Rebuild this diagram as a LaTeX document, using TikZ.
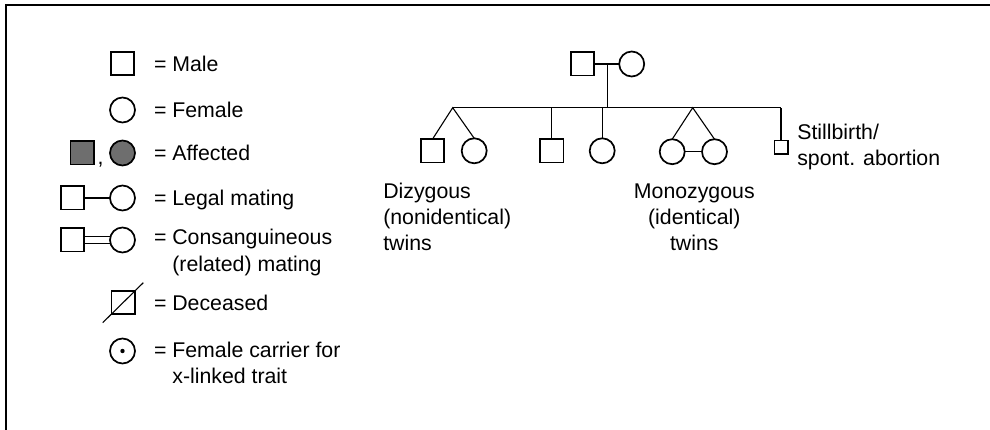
\documentclass[tikz,border=0pt]{standalone}
\usepackage{fontspec}
\setmainfont{Liberation Sans}
\definecolor{affgray}{RGB}{110,110,110}
\begin{document}
\begin{tikzpicture}[x=1pt,y=-1pt,
  every node/.style={inner sep=0pt,outer sep=0pt},
  line width=1.1pt,
  malebox/.style={draw,rectangle,minimum size=23.3pt,line width=1.7pt},
  femcirc/.style={draw,circle,minimum size=25pt,line width=1.7pt},
  smallbox/.style={draw,rectangle,minimum size=13.3pt,line width=1.7pt},
  affected/.style={fill=affgray},
  lbl/.style={anchor=base west,font=\fontsize{21.3}{26}\selectfont},
  clbl/.style={anchor=base,font=\fontsize{21.3}{26}\selectfont},
  frame/.style={line width=2.2pt,line join=miter}]
\useasboundingbox (0,0) rectangle (990,430);
% frame
\draw[frame] (990,5) -- (6.1,5) -- (6.1,430);
% ---------------- legend ----------------
\node[malebox] (lmale) at (122.5,63.5) {};
\node[lbl] (tmale) at (154,71.5) {= Male};
\node[femcirc] (lfem) at (122.5,110) {};
\node[lbl] (tfem) at (154,117.5) {= Female};
\node[malebox,affected] (laffm) at (82,153) {};
\node[lbl] (tcomma) at (97.5,164.5) {,};
\node[femcirc,affected] (lafff) at (122.5,153) {};
\node[lbl] (taff) at (154,160.5) {= Affected};
\node[malebox] (lmm) at (72.5,198) {};
\node[femcirc] (lmf) at (122.5,198) {};
\draw (lmm) -- (lmf);
\node[lbl] (tlegal) at (154,205.5) {= Legal mating};
\node[malebox] (lcm) at (72.5,240) {};
\node[femcirc] (lcf) at (122.5,240) {};
\draw ([yshift=3.3pt]lcm.east) -- ([yshift=3.3pt]lcf.west);
\draw ([yshift=-3.3pt]lcm.east) -- ([yshift=-3.3pt]lcf.west);
\node[lbl] (tcons1) at (154,245) {= Consanguineous};
\node[lbl] (tcons2) at (154,271.5) {\hphantom{= }(related) mating};
\node[malebox] (ldec) at (123,302.5) {};
\draw ([shift={(-20.3,20.2)}]ldec.center) -- ([shift={(20.3,-19.8)}]ldec.center);
\node[lbl] (tdec) at (154,310) {= Deceased};
\node[femcirc] (lcar) at (122.5,351) {};
\fill (lcar.center) circle (2.2);
\node[lbl] (tcar1) at (154,357.5) {= Female carrier for};
\node[lbl] (tcar2) at (154,383.5) {\hphantom{= }x-linked trait};
% ---------------- pedigree ----------------
\node[malebox] (pm) at (582.5,64) {};
\node[femcirc] (pf) at (631.7,64) {};
\draw (pm) -- (pf);
\coordinate (mid) at (607.3,64);
\coordinate (sibl) at (607.3,107.7);
\draw (mid) -- (sibl);
\coordinate (dzapex) at (452.7,107.7);
\coordinate (mzapex) at (692.7,107.7);
\coordinate (sbtop) at (781,107.7);
\draw (dzapex) -- (sbtop);
% dizygous twins
\node[malebox] (dz1) at (432.5,150.8) {};
\node[femcirc] (dz2) at (474.2,150.8) {};
\draw (dz1.north) -- (dzapex) -- (dz2.north);
% singletons
\node[malebox] (c1) at (551.8,150.8) {};
\node[femcirc] (c2) at (602.2,150.8) {};
\draw (c1.north) -- (c1.north |- sibl);
\draw (c2.north) -- (c2.north |- sibl);
% monozygous twins
\node[femcirc] (mz1) at (672.2,151.7) {};
\node[femcirc] (mz2) at (714.5,151.7) {};
\draw (mz1.north) -- (mzapex) -- (mz2.north);
\draw (mz1.east) -- (mz2.west);
% stillbirth
\node[smallbox] (sb) at (781,147.3) {};
\draw (sb.north) -- (sbtop);
% labels
\node[lbl] (tdz1) at (383.3,198.3) {Dizygous};
\node[lbl] (tdz2) at (383.3,224.3) {(nonidentical)};
\node[lbl] (tdz3) at (383.3,250.3) {twins};
\node[clbl] (tmz1) at (694.3,198.3) {Monozygous};
\node[clbl] (tmz2) at (694.3,224.3) {(identical)};
\node[clbl] (tmz3) at (694.3,250.3) {twins};
\node[lbl] (tsb1) at (797.3,140) {Stillbirth/};
\node[lbl] (tsb2) at (797.3,166) {spont. abortion};
\end{tikzpicture}
\end{document}
